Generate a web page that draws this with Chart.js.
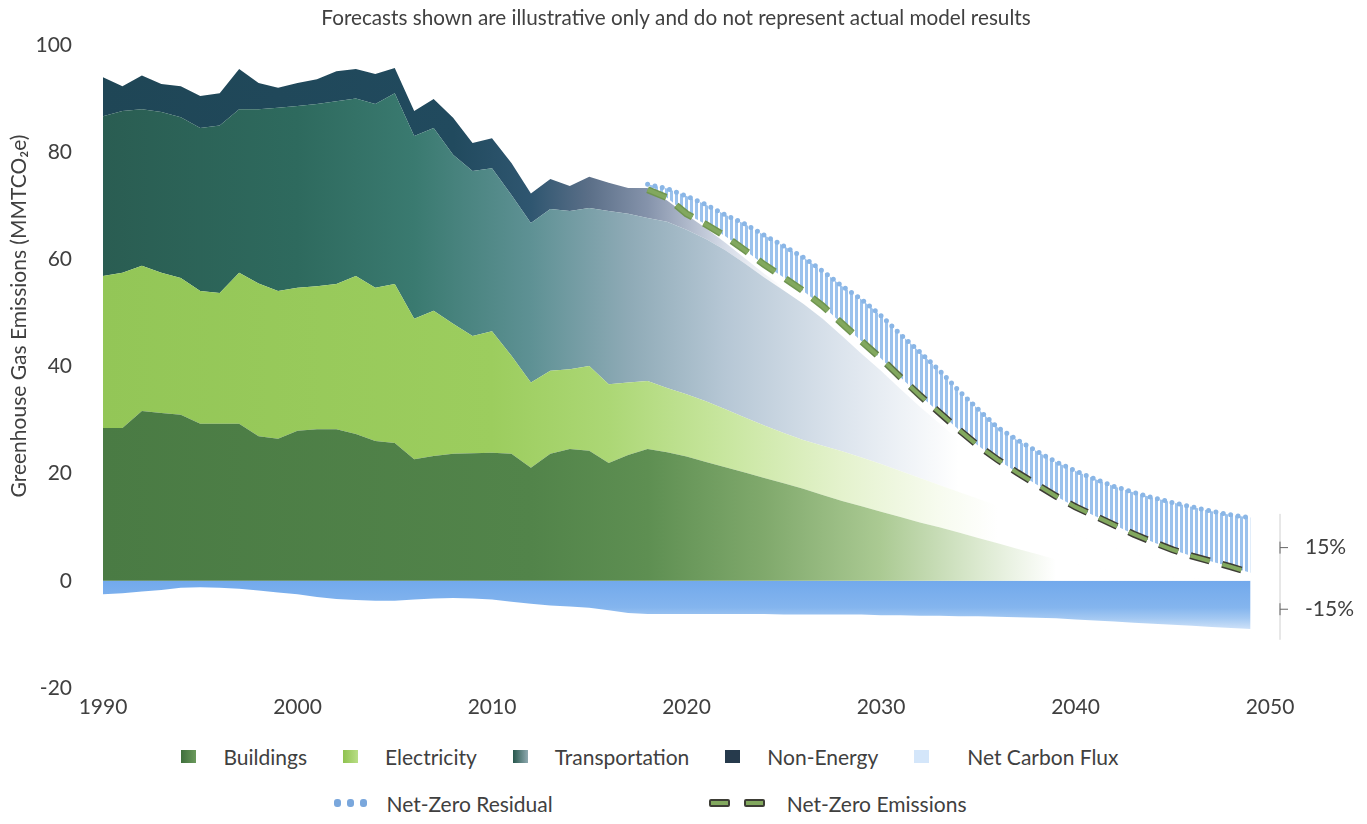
<!DOCTYPE html>
<html>
<head>
<meta charset="utf-8">
<script src="https://cdn.jsdelivr.net/npm/chart.js@4.4.1/dist/chart.umd.min.js"></script>
<style>
  html, body { margin: 0; padding: 0; background: #fff; }
  body { width: 1367px; height: 824px; overflow: hidden; position: relative; font-family: Lato, "Open Sans", sans-serif; }
  #wrap { position: absolute; left: 0; top: 0; width: 1367px; height: 735px; }
  .lrow { position: absolute; left: 0; width: 1300px; display: flex; justify-content: center; align-items: center; font-size: 21px; color: #404040; height: 30px; }
  .item { display: flex; align-items: center; white-space: nowrap; }
  .sw { display: inline-block; width: 15px; height: 13px; margin-right: 27px; }
  .dots { display: inline-flex; gap: 6px; margin-right: 20px; }
  .dots span { width: 7px; height: 8px; border-radius: 3px; background: #7aa7dc; display: inline-block; }
  .dash { display: inline-flex; gap: 14px; margin-right: 22px; }
  .dash span { width: 17px; height: 4px; background: #82a85e; border: 2px solid #3d3d35; border-radius: 2px; display: inline-block; }
</style>
</head>
<body>
<div id="wrap"><canvas id="c" width="1367" height="735"></canvas></div>
<div id="row1" class="lrow" style="top:741px"></div>
<div id="row2" class="lrow" style="top:788px"></div>
<script>
// ---------- data ----------
const years = [1990,1991,1992,1993,1994,1995,1996,1997,1998,1999,
               2000,2001,2002,2003,2004,2005,2006,2007,2008,2009,
               2010,2011,2012,2013,2014,2015,2016,2017,2018,2019,
               2020,2021,2022,2023,2024,2025,2026,2027,2028,2029,
               2030,2031,2032,2033,2034,2035,2036,2037,2038,2039,
               2040,2041,2042,2043,2044,2045,2046,2047,2048,2049];

const buildings = [28.5,28.5,31.7,31.3,31.0,29.3,29.3,29.3,27.0,26.5,
                   28.0,28.3,28.3,27.4,26.1,25.7,22.7,23.3,23.7,23.8,
                   23.9,23.7,21.1,23.7,24.6,24.3,22.0,23.5,24.6,24.0,
                   23.2,22.2,21.2,20.2,19.2,18.2,17.2,16.0,14.9,13.9,
                   12.9,11.9,10.9,10.0,9.0,8.0,7.0,6.0,5.0,4.0,
                   3.2,2.5,1.9,1.4,1.0,0.7,0.5,0.3,0.2,0.1];

const electricity = [28.4,29.0,27.1,26.2,25.5,24.8,24.4,28.2,28.5,27.6,
                     26.7,26.7,27.1,29.5,28.6,29.7,26.2,27.1,24.3,21.9,
                     22.7,18.3,15.9,15.5,14.9,15.8,14.7,13.5,12.7,12.0,
                     11.6,11.3,10.8,10.3,9.8,9.4,9.1,9.2,9.3,9.1,
                     8.9,8.6,8.3,7.9,7.6,7.3,7.0,6.6,6.2,5.9,
                     5.4,4.9,4.3,3.7,3.1,2.5,1.9,1.3,0.7,0.3];

const transportation = [29.8,30.2,29.2,30.0,30.0,30.4,31.3,30.5,32.5,34.2,
                        33.9,34.0,34.1,33.1,34.3,35.6,34.1,34.1,31.5,30.8,
                        30.4,30.0,29.8,30.2,29.5,29.5,32.3,31.5,30.4,31.0,
                        30.7,30.3,29.7,28.7,27.6,26.6,25.4,23.7,21.5,19.4,
                        17.4,15.3,13.3,11.5,9.7,8.1,6.9,6.0,5.3,4.5,
                        3.9,3.5,3.1,2.6,2.2,1.8,1.5,1.4,1.2,0.7];

const nonEnergy = [7.3,4.6,6.3,5.2,5.8,6.0,6.0,7.5,4.9,3.7,
                   4.3,4.6,5.6,5.5,5.6,4.7,4.7,5.4,6.9,5.2,
                   5.6,6.0,5.5,5.6,4.7,5.8,5.3,4.8,5.6,4.0,
                   2.8,2.0,1.4,1.0,0.7,0.5,0.4,0.3,0.2,0.2,
                   0.1,0.1,0.1,0,0,0,0,0,0,0,
                   0,0,0,0,0,0,0,0,0,0];

const netCarbonFlux = [-2.5,-2.3,-2.0,-1.7,-1.3,-1.2,-1.3,-1.5,-1.8,-2.2,
                       -2.5,-3.0,-3.4,-3.6,-3.7,-3.7,-3.5,-3.3,-3.2,-3.3,
                       -3.5,-3.9,-4.3,-4.6,-4.8,-5.0,-5.5,-6.0,-6.2,-6.2,
                       -6.2,-6.2,-6.2,-6.2,-6.2,-6.3,-6.3,-6.3,-6.3,-6.3,
                       -6.4,-6.4,-6.5,-6.5,-6.6,-6.6,-6.7,-6.8,-6.9,-7.0,
                       -7.2,-7.4,-7.6,-7.8,-8.0,-8.2,-8.4,-8.6,-8.8,-9.0];

const nzYears = [2018,2019,2020,2021,2022,2023,2024,2025,2026,2027,
                 2028,2029,2030,2031,2032,2033,2034,2035,2036,2037,
                 2038,2039,2040,2041,2042,2043,2044,2045,2046,2047,2048,2049];

const netZeroEmissions = [73.0,71.5,68.5,66.5,64.3,61.7,59.0,56.6,54.1,51.3,
                          48.0,44.7,41.5,38.0,34.6,31.4,28.2,25.2,22.6,20.2,
                          18.0,15.8,13.8,12.1,10.4,8.7,7.2,5.8,4.6,3.6,2.6,1.5];

const netZeroResidual = [74.0,73.2,71.8,70.2,68.3,66.6,64.5,62.5,60.4,57.8,
                         55.0,52.5,49.5,46.0,42.7,39.3,35.5,32.0,28.6,26.3,
                         24.2,22.2,20.5,19.0,17.6,16.5,15.5,14.6,13.8,13.0,12.3,11.8];

const xTicks = [1990, 2000, 2010, 2020, 2030, 2040, 2050];
const yTicks = [-20, 0, 20, 40, 60, 80, 100];
const noteLabels = ['15%', '-15%'];
const noteValues = [6.2, -5.3];
const noteSpan = [12.5, -11];

const chartTitle = 'Forecasts shown are illustrative only and do not represent actual model results';
const yAxisTitle = 'Greenhouse Gas Emissions (MMTCO\u2082e)';
const seriesLabels = ['Buildings', 'Electricity', 'Transportation', 'Non-Energy', 'Net Carbon Flux'];
const lineLabels = ['Net-Zero Residual', 'Net-Zero Emissions'];

// ---------- styles ----------
const FONT = 'Lato, "Open Sans", sans-serif';
const TXT = '#404040';
const pts = (xs, ys) => xs.map((x, i) => ({ x: x, y: ys[i] }));

function hGrad(stops) {
  return (c) => {
    const chart = c.chart;
    const { ctx, chartArea, scales } = chart;
    if (!chartArea) return stops[0][1];
    const x0 = scales.x.getPixelForValue(1990), x1 = scales.x.getPixelForValue(2050);
    const g = ctx.createLinearGradient(x0, 0, x1, 0);
    stops.forEach(([yr, col]) => g.addColorStop((yr - 1990) / 60, col));
    return g;
  };
}
function vGrad(stops) {
  return (c) => {
    const chart = c.chart;
    const { ctx, chartArea, scales } = chart;
    if (!chartArea) return stops[0][1];
    const y0 = scales.y.getPixelForValue(0), y1 = scales.y.getPixelForValue(-10);
    const g = ctx.createLinearGradient(0, y0, 0, y1);
    stops.forEach(([v, col]) => g.addColorStop(v / -10, col));
    return g;
  };
}

const canvas = document.getElementById('c');
const mainCtx = canvas.getContext('2d');
const pc = document.createElement('canvas');
pc.width = 5; pc.height = 6;
const pcx = pc.getContext('2d');
pcx.fillStyle = 'rgba(150,191,236,0.95)';
pcx.fillRect(0, 0, 3, 6);
const hatch = mainCtx.createPattern(pc, 'repeat');

const textPlugin = {
  id: 'textPlugin',
  afterDraw(chart) {
    const { ctx } = chart;
    ctx.save();
    ctx.fillStyle = TXT;
    ctx.textAlign = 'center';
    ctx.textBaseline = 'middle';
    ctx.font = '20.7px ' + FONT;
    ctx.fillText(chartTitle, 676, 18);
    ctx.translate(19, 316);
    ctx.rotate(-Math.PI / 2);
    ctx.font = '21px ' + FONT;
    ctx.fillText(yAxisTitle, 0, 0);
    ctx.restore();
  }
};

const notePlugin = {
  id: 'notePlugin',
  afterDatasetsDraw(chart) {
    const { ctx, chartArea, scales } = chart;
    const y = scales.y;
    const x = chartArea.right + 10;
    ctx.save();
    ctx.strokeStyle = '#d0d0d0';
    ctx.lineWidth = 1;
    ctx.beginPath();
    ctx.moveTo(x, y.getPixelForValue(noteSpan[0]));
    ctx.lineTo(x, y.getPixelForValue(noteSpan[1]));
    ctx.stroke();
    ctx.strokeStyle = '#666';
    ctx.font = '21px ' + FONT;
    ctx.fillStyle = TXT;
    ctx.textBaseline = 'middle';
    noteValues.forEach((v, i) => {
      const py = y.getPixelForValue(v);
      ctx.beginPath();
      ctx.moveTo(x, py); ctx.lineTo(x + 8, py);
      ctx.moveTo(x, py - 6); ctx.lineTo(x, py + 6);
      ctx.stroke();
      ctx.fillText(noteLabels[i], x + 25, py);
    });
    ctx.restore();
  }
};

const areaBase = { pointRadius: 0, borderWidth: 0, tension: 0, stack: 'sectors' };

new Chart(canvas, {
  type: 'line',
  data: {
    datasets: [
      { label: lineLabels[1] + ' inner', data: pts(nzYears, netZeroEmissions), stack: 'nz1',
        borderColor: '#82a85e', borderWidth: 4, borderDash: [20, 13], pointRadius: 0, fill: false, tension: 0 },
      { label: lineLabels[1], data: pts(nzYears, netZeroEmissions), stack: 'nz2',
        borderColor: hGrad([[1990,'#6f9550'],[2029,'#6f9550'],[2033,'#3d3d35'],[2050,'#3d3d35']]),
        borderWidth: 7, borderDash: [20, 13], pointRadius: 0, fill: false, tension: 0 },
      { label: lineLabels[0], data: pts(nzYears, netZeroResidual), stack: 'nz3',
        borderColor: '#8ab6e6', borderWidth: 5, borderDash: [0, 7.5], borderCapStyle: 'round',
        pointRadius: 0, tension: 0, fill: { target: 1 }, backgroundColor: hatch },
      Object.assign({ label: seriesLabels[0], data: pts(years, buildings), fill: 'origin',
        backgroundColor: hGrad([[1990,'#4a7b44'],[2012,'#52844a'],[2018,'#5e8f52'],[2024,'#80a96c'],[2030,'#abca93'],[2035,'#dbe9cf'],[2039,'#ffffff']]) }, areaBase),
      Object.assign({ label: seriesLabels[1], data: pts(years, electricity), fill: '-1',
        backgroundColor: hGrad([[1990,'#93c657'],[2010,'#9ccd5e'],[2016,'#acd775'],[2022,'#c8e69f'],[2028,'#e4f2cd'],[2033,'#f7fbef'],[2036,'#ffffff']]) }, areaBase),
      Object.assign({ label: seriesLabels[2], data: pts(years, transportation), fill: '-1',
        backgroundColor: hGrad([[1990,'#2a5d52'],[2000,'#2e6a5e'],[2006,'#3a7a70'],[2012,'#5e9194'],[2017,'#8eaab6'],[2022,'#b6c7d5'],[2028,'#dce4ed'],[2034,'#ffffff']]) }, areaBase),
      Object.assign({ label: seriesLabels[3], data: pts(years, nonEnergy), fill: '-1',
        backgroundColor: hGrad([[1990,'#1f4656'],[2008,'#214a5e'],[2012,'#2f5670'],[2015,'#5b6f88'],[2018,'#8593ab'],[2022,'#d6dce8'],[2025,'#ffffff']]) }, areaBase),
      { label: seriesLabels[4], data: pts(years, netCarbonFlux), fill: 'origin', stack: 'flux',
        pointRadius: 0, borderWidth: 0, tension: 0,
        backgroundColor: vGrad([[0,'#72a9ec'],[-5,'#84b5ee'],[-7,'#a3c8f2'],[-10,'#e4effc']]) }
    ]
  },
  options: {
    responsive: false,
    animation: false,
    devicePixelRatio: 1,
    layout: { padding: { left: 0, right: 97, top: 45, bottom: 0 } },
    plugins: {
      legend: { display: false },
      tooltip: { enabled: false },
      title: { display: false }
    },
    scales: {
      x: {
        type: 'linear', min: xTicks[0], max: xTicks[xTicks.length - 1],
        grid: { display: false, drawTicks: false }, border: { display: false },
        afterBuildTicks: (s) => { s.ticks = xTicks.map(v => ({ value: v })); },
        afterFit: (s) => { s.height = 47; },
        ticks: { color: TXT, font: { family: FONT, size: 21 }, padding: 7, maxRotation: 0,
                 callback: (v) => String(v) }
      },
      y: {
        stacked: true, min: yTicks[0], max: yTicks[yTicks.length - 1],
        grid: { display: false, drawTicks: false }, border: { display: false },
        afterBuildTicks: (s) => { s.ticks = yTicks.map(v => ({ value: v })); },
        afterFit: (s) => { s.width = 103; },
        ticks: { color: TXT, font: { family: FONT, size: 21 }, padding: 31 }
      }
    }
  },
  plugins: [textPlugin, notePlugin]
});

// ---------- legend ----------
const swatchBg = ['linear-gradient(90deg,#3f6f3c,#6b9a5c)', 'linear-gradient(90deg,#8fc24f,#b9de86)',
                  'linear-gradient(90deg,#27574c,#8fa9b0)', '#263a4c', '#d4e6fa'];
const row1 = document.getElementById('row1');
seriesLabels.forEach((lab, i) => {
  const it = document.createElement('div');
  it.className = 'item';
  it.style.marginRight = i < seriesLabels.length - 1 ? '36px' : '0';
  it.innerHTML = '<span class="sw" style="background:' + swatchBg[i] + (i === 4 ? ';margin-right:38px' : '') + '"></span><span></span>';
  it.lastChild.textContent = lab;
  row1.appendChild(it);
});
const row2 = document.getElementById('row2');
lineLabels.forEach((lab, i) => {
  const it = document.createElement('div');
  it.className = 'item';
  it.style.marginRight = i === 0 ? '156px' : '0';
  it.innerHTML = i === 0 ? '<span class="dots"><span></span><span></span><span></span></span><span></span>'
                         : '<span class="dash"><span></span><span></span></span><span></span>';
  it.lastChild.textContent = lab;
  row2.appendChild(it);
});
</script>
</body>
</html>
